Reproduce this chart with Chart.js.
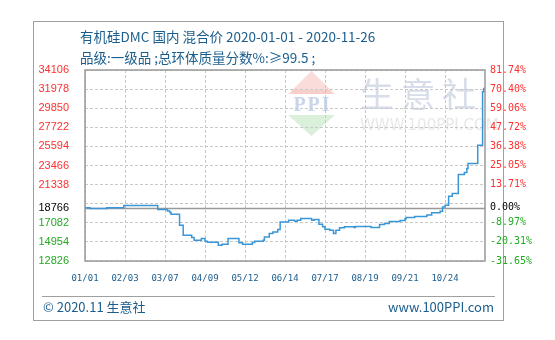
<!DOCTYPE html>
<html>
<head>
<meta charset="utf-8">
<script src="https://cdn.jsdelivr.net/npm/chart.js@4"></script>
<style>
  body { margin: 0; background: #fff; }
  #wrap { position: relative; width: 555px; height: 340px; overflow: hidden; }
  #frame { position: absolute; left: 33px; top: 21px; width: 469px; height: 298px; border: 1px solid #a0a0a0; }
  canvas { position: absolute; left: 0; top: 0; }
  .txt { position: absolute; font-family: "Noto Sans CJK SC", "Noto Sans", sans-serif; color: #1b5d8d; white-space: nowrap; line-height: 20px; }
  #t1 { left: 80px; top: 26px; font-size: 13.5px; }
  #t2 { left: 80px; top: 47px; font-size: 13.5px; }
  #rule { position: absolute; left: 42px; top: 296px; width: 453px; height: 1px; background: #a0a0a0; }
  #f1 { left: 43px; top: 297px; font-size: 13px; }
  #f2 { right: 61px; top: 297px; font-size: 13px; }
</style>
</head>
<body>
<div id="wrap">
  <div id="frame"></div>
  <canvas id="chart" width="555" height="340"></canvas>
  <div class="txt" id="t1">有机硅DMC 国内 混合价 2020-01-01 - 2020-11-26</div>
  <div class="txt" id="t2">品级:一级品 ;总环体质量分数%:≥99.5 ;</div>
  <div id="rule"></div>
  <div class="txt" id="f1">© 2020.11 生意社</div>
  <div class="txt" id="f2">www.100PPI.com</div>
</div>
<script>
// price change points: day offset from 2020-01-01, price (元/吨)
const days = [0, 4, 18, 32, 60, 68, 70, 71, 78, 81, 88, 90, 96, 99, 101, 110, 113, 118, 127, 130,
  138, 140, 147, 148, 152, 155, 159, 161, 168, 173, 175, 178, 187, 189, 193, 196, 198, 202, 205, 207,
  210, 214, 222, 223, 236, 243, 247, 251, 260, 264, 265, 272, 282, 286, 293, 295, 297, 300, 303, 308,
  313, 315, 316, 324, 328, 329, 330];
const prices = [18766, 18680, 18766, 19010, 18570, 18410, 18230, 18040, 16820, 15700, 15450, 15150, 15330, 15030, 14920, 14590, 14700, 15330, 14850, 14700,
  14890, 15030, 15150, 15510, 15890, 16070, 16340, 17180, 17370, 17260, 17370, 17560, 17370, 17450, 16930, 16630, 16370, 16260, 15890, 16260,
  16520, 16630, 16560, 16670, 16560, 16900, 17010, 17230, 17340, 17520, 17670, 17790, 17960, 18190, 18380, 18850, 19050, 20050, 20350, 22460,
  22690, 23130, 23690, 25730, 31670, 32050, 32050];

const base = 18766;
const yTicks = [12826, 14954, 17082, 18766, 21338, 23466, 25594, 27722, 29850, 31978, 34106];
const gridOnlyTicks = [19210];
const xLabels = ['01/01', '02/03', '03/07', '04/09', '05/12', '06/14', '07/17', '08/19', '09/21', '10/24'];
const xStep = 33;
const totalDays = 330;

const RED = '#ff3030', GREEN = '#22aa22', BLACK = '#000';

function tickColor(v) {
  if (v > base) return RED;
  if (v < base) return GREEN;
  return BLACK;
}

const decor = {
  id: 'decor',
  beforeDraw(chart) {
    const ctx = chart.ctx, a = chart.chartArea;
    const lx = a.left + 203, ly = a.top;
    ctx.save();
    // PPI logo
    ctx.fillStyle = '#fadddb';
    ctx.beginPath();
    ctx.moveTo(lx + 23.5, ly + 1);
    ctx.lineTo(lx + 47, ly + 24);
    ctx.lineTo(lx, ly + 24);
    ctx.closePath();
    ctx.fill();
    ctx.fillStyle = '#f6cfcc';
    ctx.fillRect(lx + 4, ly + 20, 39, 4);
    ctx.fillStyle = '#daf0da';
    ctx.beginPath();
    ctx.moveTo(lx, ly + 45);
    ctx.lineTo(lx + 47, ly + 45);
    ctx.lineTo(lx + 23.5, ly + 66);
    ctx.closePath();
    ctx.fill();
    ctx.fillStyle = '#c9d5ea';
    ctx.font = 'bold 20px "Liberation Serif", serif';
    ctx.textAlign = 'center';
    ctx.textBaseline = 'middle';
    ctx.letterSpacing = '2px';
    ctx.fillText('PPI', lx + 24.5, ly + 36);
    // 生意社 text
    ctx.fillStyle = '#d7dde9';
    ctx.font = '34px "Noto Sans CJK SC", sans-serif';
    ctx.textAlign = 'left';
    ctx.letterSpacing = '7px';
    ctx.fillText('生意社', lx + 72, ly + 24);
    ctx.letterSpacing = '0px';
    ctx.fillStyle = '#e8e8e8';
    ctx.font = '15px "DejaVu Sans", sans-serif';
    ctx.fillText('WWW.100PPI.COM', lx + 72, ly + 56);
    ctx.restore();
  },
  beforeDatasetsDraw(chart) {
    const ctx = chart.ctx, a = chart.chartArea;
    const yb = Math.round(chart.scales.y.getPixelForValue(base)) + 0.5;
    ctx.save();
    ctx.strokeStyle = '#999';
    ctx.lineWidth = 1.5;
    ctx.beginPath();
    ctx.moveTo(a.left, yb);
    ctx.lineTo(a.right, yb);
    ctx.stroke();
    ctx.restore();
  },
  afterDatasetsDraw(chart) {
    const ctx = chart.ctx, a = chart.chartArea;
    ctx.save();
    ctx.strokeStyle = '#999';
    ctx.lineWidth = 1.5;
    ctx.strokeRect(a.left, a.top, a.right - a.left, a.bottom - a.top);
    ctx.restore();
  }
};

const gridStyle = {
  color: (c) => (c.tick && c.tick.value === base ? 'rgba(0,0,0,0)' : '#c8c8c8'),
  lineWidth: 1,
  drawTicks: false
};

new Chart(document.getElementById('chart'), {
  type: 'line',
  data: {
    datasets: [{
      data: days.map((d, i) => ({ x: d, y: prices[i] })),
      borderColor: '#3a96d6',
      borderWidth: 1.5,
      pointRadius: 0,
      stepped: true,
      yAxisID: 'y'
    }]
  },
  options: {
    responsive: false,
    animation: false,
    devicePixelRatio: 1,
    layout: { padding: { top: 70, left: 0, right: 0, bottom: 0 } },
    plugins: { legend: { display: false }, tooltip: { enabled: false } },
    scales: {
      x: {
        type: 'linear',
        min: 0,
        max: totalDays,
        afterBuildTicks: (s) => { s.ticks = xLabels.map((_, i) => ({ value: i * xStep })); },
        afterFit: (s) => { s.height = 79; },
        grid: gridStyle,
        border: { display: false, dash: [3, 2] },
        ticks: {
          autoSkip: false,
          maxRotation: 0,
          padding: 12,
          color: '#1b5d8d',
          font: { family: 'DejaVu Sans Mono', size: 9 },
          callback: (v) => xLabels[Math.round(v / xStep)]
        }
      },
      y: {
        position: 'left',
        min: yTicks[0],
        max: yTicks[yTicks.length - 1],
        afterBuildTicks: (s) => {
          s.ticks = yTicks.concat(gridOnlyTicks).sort((a, b) => a - b).map((v) => ({ value: v }));
        },
        afterFit: (s) => { s.width = 85; },
        grid: gridStyle,
        border: { display: false, dash: [3, 2] },
        ticks: {
          autoSkip: false,
          padding: 16,
          font: { family: 'Liberation Sans', size: 11 },
          color: (c) => tickColor(c.tick.value),
          callback: (v) => (yTicks.includes(v) ? String(v) : '')
        }
      },
      y2: {
        position: 'right',
        min: yTicks[0],
        max: yTicks[yTicks.length - 1],
        afterBuildTicks: (s) => { s.ticks = yTicks.map((v) => ({ value: v })); },
        afterFit: (s) => { s.width = 70; },
        grid: { display: false, drawTicks: false },
        border: { display: false },
        ticks: {
          autoSkip: false,
          padding: 5,
          font: { family: 'DejaVu Sans Mono', size: 10 },
          color: (c) => tickColor(c.tick.value),
          callback: (v) => ((v / base - 1) * 100).toFixed(2) + '%'
        }
      }
    }
  },
  plugins: [decor]
});
</script>
</body>
</html>
